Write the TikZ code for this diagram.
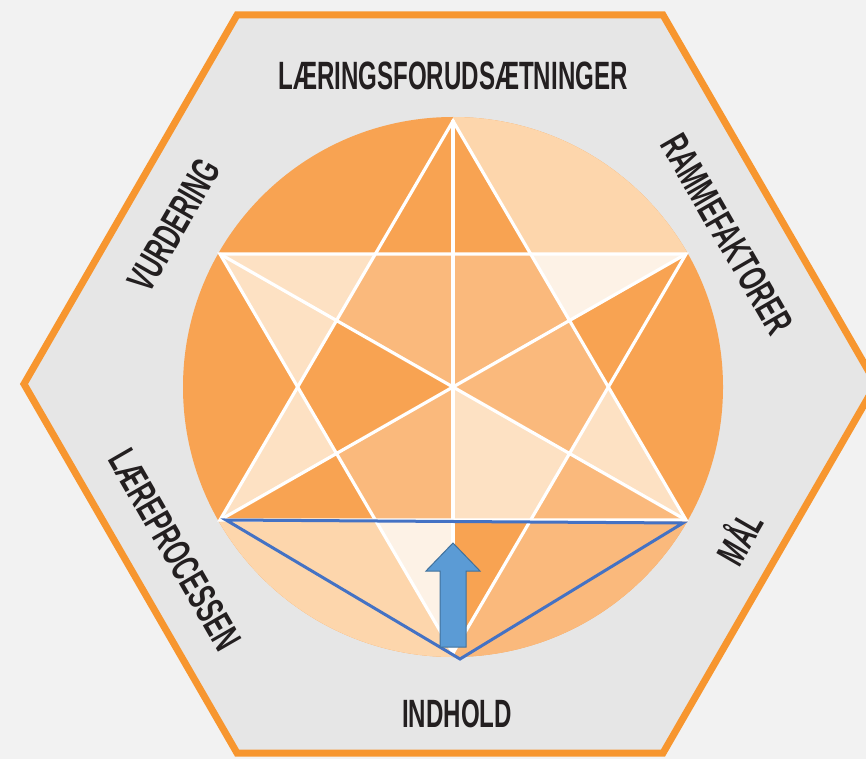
\documentclass[tikz,border=0pt]{standalone}
\usepackage{fontspec}
\newfontfamily\lblfont[FakeStretch=0.61]{Liberation Sans}
\definecolor{cdark}{HTML}{F8A352}
\definecolor{cmed}{HTML}{FAB97C}
\definecolor{cpeach}{HTML}{FDD6AC}
\definecolor{clight}{HTML}{FDE1C3}
\definecolor{cvlight}{HTML}{FDF2E6}
\definecolor{hexline}{HTML}{F7962F}
\definecolor{hexfill}{HTML}{E6E6E6}
\definecolor{bgcol}{HTML}{F2F2F2}
\definecolor{blueline}{HTML}{4472C4}
\definecolor{arrowfill}{HTML}{5B9BD5}
\definecolor{arrowdraw}{HTML}{41719C}
\definecolor{labeltext}{HTML}{231F20}
\begin{document}
\begin{tikzpicture}[x=1pt,y=-1pt,
  lbl/.style={font=\lblfont\bfseries\fontsize{39.5}{40}\selectfont, text=labeltext, inner sep=0pt, anchor=center},
  wline/.style={draw=white, line width=3.2pt, line cap=round},
  hexbox/.style={draw=hexline, line width=7pt, fill=hexfill, line join=miter},
  bline/.style={draw=blueline, line width=3pt, line join=miter},
  uparrow/.style={fill=arrowfill, draw=arrowdraw, line width=1pt, line join=miter}]
\useasboundingbox (0,0) rectangle (866,759);
\clip (0,0) rectangle (866,759);
\fill[bgcol] (0,0) rectangle (866,759);
% hexagon
\draw[hexbox] (24,384) -- (237,15) -- (663,15) -- (876,384) -- (663,753) -- (237,753) -- cycle;
% star geometry
\coordinate (C) at (453,387);
\coordinate (T) at (453,121);
\coordinate (B) at (453,653);
\coordinate (TR) at (686,254);
\coordinate (BR) at (686,520);
\coordinate (BL) at (220,520);
\coordinate (TL) at (220,254);
\coordinate (R0) at (608.33,387);
\coordinate (L0) at (297.67,387);
\coordinate (UR) at (530.67,254);
\coordinate (UL) at (375.33,254);
\coordinate (DR) at (530.67,520);
\coordinate (DL) at (375.33,520);
\coordinate (mUR) at (569.5,320.5);
\coordinate (mUL) at (336.5,320.5);
\coordinate (mDR) at (569.5,453.5);
\coordinate (mDL) at (336.5,453.5);
\coordinate (mT) at (453,254);
\coordinate (mB) at (453,520);
% circle base
\fill[cdark] (C) circle (270pt);
\begin{scope}
  \clip (C) circle (270pt);
  \fill[cpeach] (T) -- (453,90) -- (760,90) -- (760,254) -- (UR) -- cycle;
  \fill[cpeach] (B) -- (453,690) -- (150,690) -- (150,520) -- (DL) -- cycle;
  \fill[cmed] (B) -- (453,690) -- (760,690) -- (760,520) -- (DR) -- cycle;
\end{scope}
% star points
\fill[cvlight] (TR) -- (UR) -- (mUR) -- cycle;
\fill[clight] (BR) -- (R0) -- (mDR) -- cycle;
\fill[cmed] (BR) -- (mDR) -- (DR) -- cycle;
\fill[cvlight] (B) -- (mB) -- (DL) -- cycle;
\fill[clight] (BL) -- (L0) -- (mDL) -- cycle;
\fill[clight] (TL) -- (UL) -- (L0) -- cycle;
% inner sectors
\fill[cmed] (C) -- (mT) -- (UL) -- (mUL) -- cycle;
\fill[cmed] (C) -- (mT) -- (UR) -- (mUR) -- cycle;
\fill[cmed] (C) -- (mUR) -- (R0) -- (mDR) -- cycle;
\fill[clight] (C) -- (mDR) -- (DR) -- (mB) -- cycle;
\fill[cmed] (C) -- (mB) -- (DL) -- (mDL) -- cycle;
% white lines
\draw[wline] (T) -- (BL) -- (BR) -- cycle;
\draw[wline] (B) -- (TL) -- (TR) -- cycle;
\draw[wline] (T) -- (B);
\draw[wline] (TL) -- (BR);
\draw[wline] (TR) -- (BL);
% blue triangle
\coordinate (bL) at (226,520);
\coordinate (bR) at (683,523);
\coordinate (bB) at (460,659);
\draw[bline] (bL) -- (bR) -- (bB) -- cycle;
% arrow
\draw[uparrow] (453,543) -- (480,571) -- (466,571) -- (466,647) -- (440,647) -- (440,571) -- (426,571) -- cycle;
% labels
\node[lbl] (lf) at (453,76) {LÆRINGSFORUDSÆTNINGER};
\node[lbl, rotate=-60] (rf) at (727,234) {RAMMEFAKTORER};
\node[lbl, rotate=60] (vu) at (174,225) {VURDERING};
\node[lbl, rotate=-60] (lp) at (175,550) {LÆREPROCESSEN};
\node[lbl, rotate=60] (ml) at (737,537) {MÅL};
\node[lbl] (ih) at (457,714) {INDHOLD};
\end{tikzpicture}
\end{document}
